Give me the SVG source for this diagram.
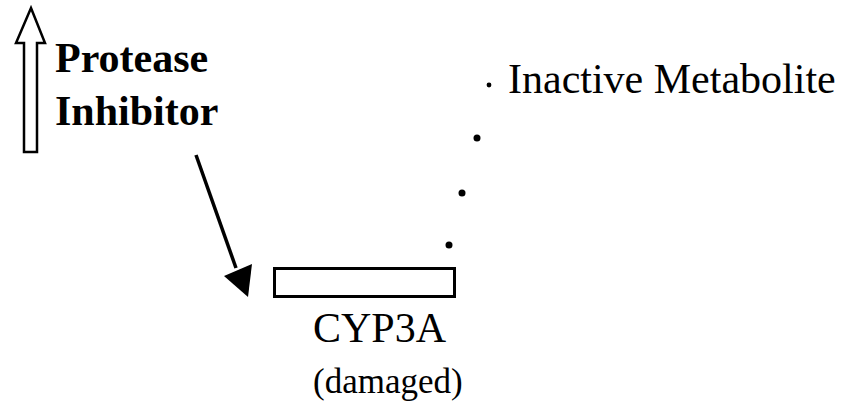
<svg xmlns="http://www.w3.org/2000/svg" width="863" height="406" viewBox="0 0 863 406">
<style>
.t{font-family:"Liberation Serif","Times New Roman",serif;fill:#000}
.b{font-weight:bold}
.dot{fill:#000}
</style>
<rect width="863" height="406" fill="#fff"/>
<g id="increase-arrow">
<path d="M31,8 L45,43 L37,43 L37,152 L24,152 L24,43 L16,43 Z" fill="#fff" stroke="#000" stroke-width="2.5" stroke-linejoin="miter"/>
</g>
<g id="protease-inhibitor">
<text class="t b" x="55" y="72" font-size="42">Protease</text>
<text class="t b" x="55" y="125" font-size="42">Inhibitor</text>
</g>
<g id="inactive-metabolite">
<text class="t" x="508" y="93" font-size="42">Inactive Metabolite</text>
</g>
<g id="cyp3a">
<rect x="274.5" y="268.5" width="180" height="28" fill="#fff" stroke="#000" stroke-width="3"/>
<text class="t" x="313" y="342" font-size="42">CYP3A</text>
<text class="t" x="313" y="393" font-size="35">(damaged)</text>
</g>
<g id="connectors">
<line x1="196" y1="155" x2="236" y2="268" stroke="#000" stroke-width="3.5"/>
<path d="M248,297 L224,276 L252,264 Z" fill="#000"/>
<circle class="dot" cx="489" cy="85" r="2.4"/>
<circle class="dot" cx="477" cy="138" r="3.5"/>
<circle class="dot" cx="462" cy="193" r="3.5"/>
<circle class="dot" cx="449" cy="245" r="3.5"/>
</g>
</svg>
